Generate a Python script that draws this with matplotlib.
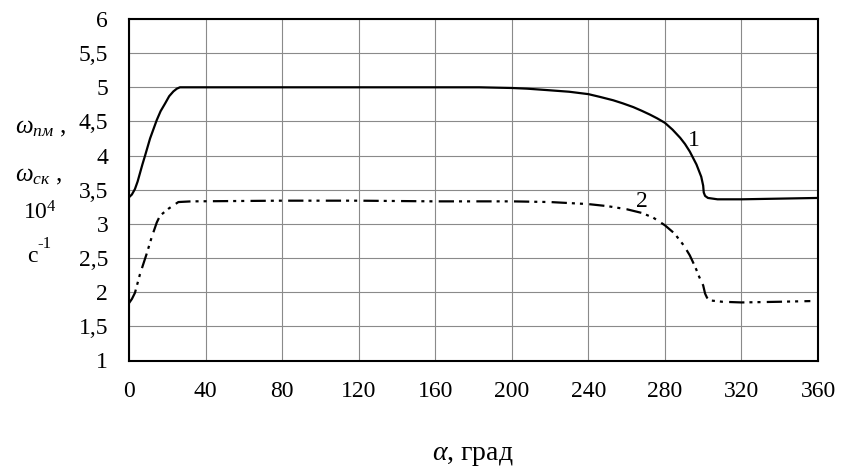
import matplotlib
matplotlib.use("Agg")
import matplotlib.pyplot as plt

plt.rcParams['font.family'] = ['Liberation Serif', 'DejaVu Serif']
plt.rcParams['mathtext.fontset'] = 'custom'
plt.rcParams['mathtext.rm'] = 'Liberation Serif'
plt.rcParams['mathtext.it'] = 'Liberation Serif:italic'
plt.rcParams['lines.scale_dashes'] = False

alpha1 = [0, 1.5, 3.1, 4.5, 5.7, 7, 8.4, 11, 14.5, 16.5, 18.8, 21, 23.2, 25, 26.6, 28, 40, 120,
          183, 200, 208, 218, 230, 240, 246, 253, 258, 263.5, 268, 272.2, 276, 280, 284, 288,
          290.5, 293, 296.5, 299, 300, 300.3, 301, 302.5, 305, 307.5, 320, 340, 360]
omega1 = [3.39, 3.43, 3.51, 3.62, 3.74, 3.87, 4.0, 4.25, 4.52, 4.65, 4.76, 4.87, 4.94, 4.98,
          5.0, 5.0, 5.0, 5.0, 5.0, 4.99, 4.98, 4.96, 4.935, 4.9, 4.86, 4.81, 4.765, 4.71, 4.655,
          4.6, 4.545, 4.48, 4.38, 4.26, 4.17, 4.06, 3.87, 3.69, 3.56, 3.46, 3.41, 3.38, 3.37,
          3.36, 3.36, 3.37, 3.38]

alpha2 = [0, 1.5, 3.1, 5.7, 9.2, 11.8, 14.5, 16.2, 20.5, 25.8, 32.7, 80, 120, 160, 200, 220,
          240, 250, 260, 268, 274, 280, 285, 290, 293, 296, 298, 300, 301, 302, 303.5, 310, 320,
          340, 356]
omega2 = [1.84, 1.9, 1.99, 2.26, 2.56, 2.8, 3.02, 3.12, 3.22, 3.32, 3.33, 3.34, 3.34, 3.33,
          3.33, 3.32, 3.29, 3.26, 3.215, 3.16, 3.09, 2.98, 2.86, 2.68, 2.54, 2.36, 2.22, 2.1,
          1.98, 1.92, 1.88, 1.86, 1.85, 1.86, 1.87]

xticks = [0, 40, 80, 120, 160, 200, 240, 280, 320, 360]
yticks = [1, 1.5, 2, 2.5, 3, 3.5, 4, 4.5, 5, 5.5, 6]
ytick_labels = ['1', '1,5', '2', '2,5', '3', '3,5', '4', '4,5', '5', '5,5', '6']

fig = plt.figure(figsize=(8.41, 4.67), dpi=100)
ax = fig.add_axes([129/841, 1 - 360.5/467, (818-129)/841, (360.5-19)/467])

ax.plot(alpha1, omega1, color='black', lw=1.6)
ax.plot(alpha2, omega2, color='black', lw=1.6, dashes=(11.0, 3.6, 2.2, 3.6, 2.2, 4.5))

ax.set_xlim(0, 360)
ax.set_ylim(1, 6)
ax.set_xticks(xticks)
ax.set_yticks(yticks)
ax.set_yticklabels(ytick_labels)
ax.grid(True, color='#8a8a8a', lw=0.8)
ax.set_axisbelow(True)
for s in ax.spines.values():
    s.set_linewidth(1.5)
    s.set_color('black')
ax.tick_params(length=0, labelsize=17)
ax.tick_params(axis='y', pad=15)
ax.tick_params(axis='x', pad=15)

ax.text(295, 4.22, '1', fontsize=17, ha='center', va='center')
ax.text(268, 3.33, '2', fontsize=17, ha='center', va='center')

fig.text(15/841, 1 - 133/467, r'$\omega_{пм}$ ,', fontsize=18, ha='left', va='baseline')
fig.text(15/841, 1 - 181/467, r'$\omega_{ск}$ ,', fontsize=18, ha='left', va='baseline')
fig.text(23/841, 1 - 220/467, r'$\mathrm{10}^{4}$', fontsize=17, ha='left', va='baseline')
fig.text(27/841, 1 - 262/467, 'с', fontsize=17, ha='left', va='baseline')
fig.text(37/841, 1 - 248/467, '-1', fontsize=12, ha='left', va='baseline')

fig.text(473/841, 1 - 455/467, r'$\alpha$, град', fontsize=20, ha='center', va='center')

fig.savefig('out.png', dpi=100)
